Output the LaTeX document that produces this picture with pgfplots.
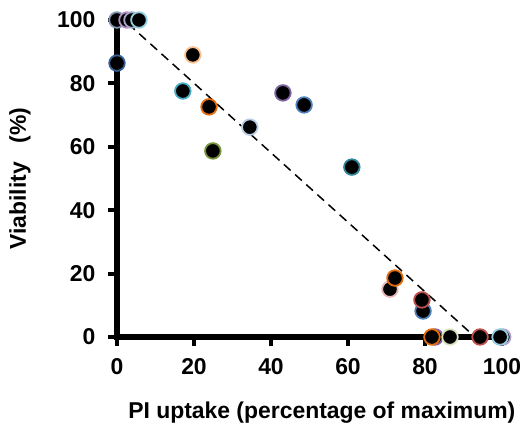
\documentclass[border=0pt]{standalone}
\usepackage{fontspec}
\setmainfont{Liberation Sans}
\usepackage{pgfplots}
\pgfplotsset{compat=1.18}

% ring colours of the points
\definecolor{bluegray}{HTML}{8496B0}
\definecolor{pinkpurp}{HTML}{B48EC4}
\definecolor{lavender}{HTML}{A6A6C8}
\definecolor{ltblue}{HTML}{93CDDD}
\definecolor{dkblue}{HTML}{376092}
\definecolor{cyanc}{HTML}{4BACC6}
\definecolor{ltorange}{HTML}{FAC090}
\definecolor{orangec}{HTML}{E46C0A}
\definecolor{greenc}{HTML}{77933C}
\definecolor{ltlav}{HTML}{B9CDE5}
\definecolor{purplec}{HTML}{8064A2}
\definecolor{bluec}{HTML}{4F81BD}
\definecolor{tealc}{HTML}{31859C}
\definecolor{pinkc}{HTML}{E6B9B8}
\definecolor{redc}{HTML}{C0504D}
\definecolor{ltgreen}{HTML}{D7E4BD}
\definecolor{lavc}{HTML}{B3A2C7}

\pgfplotsset{pt/.style={only marks, mark=*, mark size=7.8bp,
  mark options={fill=black, draw=#1, line width=1.8bp}}}

\begin{document}
\begin{tikzpicture}
\useasboundingbox (-117bp,-93bp) rectangle (413bp,337bp);
\begin{axis}[
    scale only axis,
    width=385bp, height=317bp,
    xmin=0, xmax=100, ymin=0, ymax=100,
    axis line style={draw=none},
    xtick={0,20,...,100}, ytick={0,20,...,100},
    xtick pos=left, ytick pos=left,
    tick align=outside,
    major tick length=9bp,
    tick style={line width=4bp, black},
    clip=false,
    font=\fontsize{23}{27}\selectfont\bfseries,
    /pgf/number format/assume math mode=true,
    xticklabel style={yshift=-9bp},
    yticklabel style={xshift=-9bp},
    xlabel={PI uptake (percentage of maximum)},
    ylabel={Viability\ \ \ (\%)},
    xlabel style={at={(axis description cs:0.532,-0.237)}, anchor=center},
    ylabel style={at={(axis description cs:-0.252,0.5)}, anchor=center},
]
% short outside ticks (about 9bp) and the two axis lines
\draw[line width=4bp] (axis cs:0,-2.8) -- (axis cs:0,0);
\draw[line width=4bp] (axis cs:20,-2.8) -- (axis cs:20,0);
\draw[line width=4bp] (axis cs:40,-2.8) -- (axis cs:40,0);
\draw[line width=4bp] (axis cs:60,-2.8) -- (axis cs:60,0);
\draw[line width=4bp] (axis cs:80,-2.8) -- (axis cs:80,0);
\draw[line width=4bp] (axis cs:100,-2.8) -- (axis cs:100,0);
\draw[line width=4bp] (axis cs:-2.3,0) -- (axis cs:0,0);
\draw[line width=4bp] (axis cs:-2.3,20) -- (axis cs:0,20);
\draw[line width=4bp] (axis cs:-2.3,40) -- (axis cs:0,40);
\draw[line width=4bp] (axis cs:-2.3,60) -- (axis cs:0,60);
\draw[line width=4bp] (axis cs:-2.3,80) -- (axis cs:0,80);
\draw[line width=4bp] (axis cs:-2.3,100) -- (axis cs:0,100);
\draw[line width=6bp] (axis cs:0,100) -- (axis cs:0,0) -- (axis cs:100,0);
\addplot[black, line width=1.5bp, dash pattern=on 9bp off 6bp] coordinates {(0,102) (93,0)};
\addplot[pt=bluegray] coordinates {(0,100)};
\addplot[pt=pinkpurp] coordinates {(2.6,100)};
\addplot[pt=lavender] coordinates {(3.9,100)};
\addplot[pt=ltblue] coordinates {(5.7,100)};
\addplot[pt=dkblue] coordinates {(0,86.4)};
\addplot[pt=cyanc] coordinates {(17.1,77.6)};
\addplot[pt=ltorange] coordinates {(19.7,89)};
\addplot[pt=orangec] coordinates {(23.9,72.6)};
\addplot[pt=greenc] coordinates {(24.9,58.7)};
\addplot[pt=ltlav] coordinates {(34.5,66.2)};
\addplot[pt=purplec] coordinates {(43.1,77)};
\addplot[pt=bluec] coordinates {(48.6,73.2)};
\addplot[pt=tealc] coordinates {(61,53.6)};
\addplot[pt=pinkc] coordinates {(70.9,15.1)};
\addplot[pt=orangec] coordinates {(72.2,18.6)};
\addplot[pt=bluec] coordinates {(79.5,8.2)};
\addplot[pt=redc] coordinates {(79.2,11.7)};
\addplot[pt=purplec] coordinates {(82.6,0)};
\addplot[pt=orangec] coordinates {(81.8,0)};
\addplot[pt=ltgreen] coordinates {(86.5,0)};
\addplot[pt=redc] coordinates {(94.3,0)};
\addplot[pt=lavc] coordinates {(100.2,0)};
\addplot[pt=ltblue] coordinates {(99.5,0)};
\end{axis}
\end{tikzpicture}
\end{document}
